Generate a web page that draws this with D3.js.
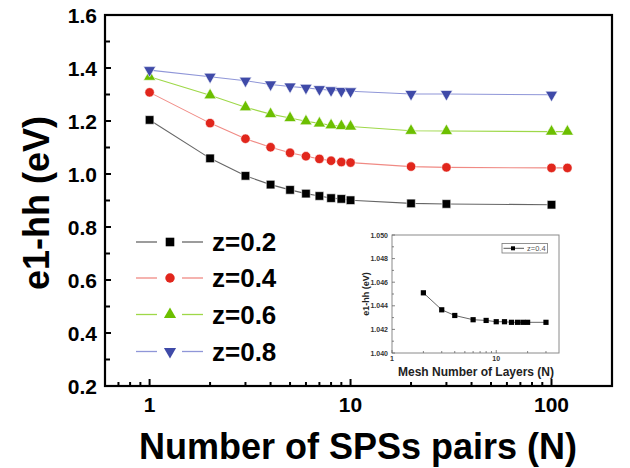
<!DOCTYPE html>
<html>
<head>
<meta charset="utf-8">
<script src="https://cdn.jsdelivr.net/npm/d3@7.9.0/dist/d3.min.js"></script>
<style>
  body { margin: 0; background: #fff; }
  svg { display: block; font-family: "Liberation Sans", Arial, sans-serif; }
</style>
</head>
<body>
<svg id="chart" width="630" height="468"></svg>
<script>
// Main chart data: number of SPS pairs vs e1-hh energy
const pairs = [1, 2, 3, 4, 5, 6, 7, 8, 9, 10, 20, 30, 100];
const z02 = [1.204, 1.059, 0.993, 0.960, 0.940, 0.926, 0.917, 0.909, 0.906, 0.901, 0.889, 0.887, 0.884];
const z04 = [1.308, 1.192, 1.133, 1.101, 1.080, 1.067, 1.057, 1.050, 1.045, 1.043, 1.028, 1.025, 1.023, 1.023];
const z06 = [1.367, 1.297, 1.252, 1.226, 1.211, 1.199, 1.191, 1.184, 1.181, 1.179, 1.163, 1.162, 1.160, 1.160];
const z08 = [1.392, 1.367, 1.352, 1.338, 1.330, 1.325, 1.320, 1.316, 1.313, 1.312, 1.302, 1.302, 1.299];
const extraPair = 120; // z=0.4 and z=0.6 have one more point
const yTicks = [0.2, 0.4, 0.6, 0.8, 1.0, 1.2, 1.4, 1.6];
const xTicks = [1, 10, 100];

// Inset data: mesh layers vs e1-hh for z=0.4
const layers = [2, 3, 4, 6, 8, 10, 12, 14, 16, 18, 20, 30];
const meshE = [1.04510, 1.04366, 1.04318, 1.04282, 1.04276, 1.04265, 1.04265, 1.04260, 1.04260, 1.04260, 1.04260, 1.04260];
const insetYTicks = [1.040, 1.042, 1.044, 1.046, 1.048, 1.050];

const series = [
  { label: "z=0.2", y: z02, color: "#000000", line: "#666666", shape: d3.symbolSquare, size: 74, rot: 0 },
  { label: "z=0.4", y: z04, color: "#e1261c", line: "#f08a84", shape: d3.symbolCircle, size: 70, rot: 0 },
  { label: "z=0.6", y: z06, color: "#6cbf00", line: "#9ed848", shape: d3.symbolTriangle, size: 64, rot: 0 },
  { label: "z=0.8", y: z08, color: "#3f4aa8", line: "#8f96d8", shape: d3.symbolTriangle, size: 64, rot: 180 }
];

const svg = d3.select("#chart");

const x = d3.scaleLog().domain([0.6, 200]).range([105, 612]);
const y = d3.scaleLinear().domain([0.2, 1.6]).range([386, 15]);

// frame
svg.append("rect")
  .attr("x", 105).attr("y", 15)
  .attr("width", 612 - 105).attr("height", 386 - 15)
  .attr("fill", "none").attr("stroke", "#000").attr("stroke-width", 2.2);

// y ticks (inward), every 0.1, labels every 0.2
const yMinor = d3.range(0.3, 1.6, 0.2);
svg.selectAll(".ymin").data(yMinor).join("line")
  .attr("x1", 105).attr("x2", 110)
  .attr("y1", d => y(d)).attr("y2", d => y(d))
  .attr("stroke", "#000").attr("stroke-width", 2);
svg.selectAll(".ymaj").data(yTicks).join("line")
  .attr("x1", 105).attr("x2", 111)
  .attr("y1", d => y(d)).attr("y2", d => y(d))
  .attr("stroke", "#000").attr("stroke-width", 2);
svg.selectAll(".ylab").data(yTicks).join("text")
  .attr("x", 97).attr("y", d => y(d) + 7.5)
  .attr("text-anchor", "end")
  .attr("font-size", 21).attr("font-weight", "bold")
  .text(d => d.toFixed(1));

// x ticks (log, inward)
const xMinor = [0.7, 0.8, 0.9, 2, 3, 4, 5, 6, 7, 8, 9, 20, 30, 40, 50, 60, 70, 80, 90];
svg.selectAll(".xmin").data(xMinor).join("line")
  .attr("x1", d => x(d)).attr("x2", d => x(d))
  .attr("y1", 386).attr("y2", 382)
  .attr("stroke", "#000").attr("stroke-width", 2);
svg.selectAll(".xmaj").data(xTicks).join("line")
  .attr("x1", d => x(d)).attr("x2", d => x(d))
  .attr("y1", 386).attr("y2", 379)
  .attr("stroke", "#000").attr("stroke-width", 2);
svg.selectAll(".xlab").data(xTicks).join("text")
  .attr("x", d => x(d)).attr("y", 412)
  .attr("text-anchor", "middle")
  .attr("font-size", 21).attr("font-weight", "bold")
  .text(d => d);

// axis titles
svg.append("text")
  .attr("transform", "translate(49,203) rotate(-90)")
  .attr("text-anchor", "middle")
  .attr("font-size", 36).attr("font-weight", "bold")
  .text("e1-hh (eV)");
svg.append("text")
  .attr("x", 358).attr("y", 459)
  .attr("text-anchor", "middle")
  .attr("font-size", 36).attr("font-weight", "bold")
  .text("Number of SPSs pairs (N)");

// series
const line = d3.line().x(d => x(d[0])).y(d => y(d[1]));
series.forEach(s => {
  const xs = pairs.concat(s.y.length > pairs.length ? [extraPair] : []);
  const pts = s.y.map((v, i) => [xs[i], v]);
  svg.append("path").datum(pts)
    .attr("d", line)
    .attr("fill", "none").attr("stroke", s.line).attr("stroke-width", 1.1);
  svg.selectAll(null).data(pts).join("path")
    .attr("d", d3.symbol(s.shape, s.size))
    .attr("transform", d => `translate(${x(d[0])},${y(d[1])}) rotate(${s.rot})`)
    .attr("fill", s.color).attr("stroke", "#fff").attr("stroke-width", 0.6);
});

// main legend
const legendY = [242, 278, 314.5, 351.5];
series.forEach((s, i) => {
  const g = svg.append("g").attr("transform", `translate(0,${legendY[i]})`);
  g.append("line").attr("x1", 136).attr("x2", 157).attr("y1", 0).attr("y2", 0)
    .attr("stroke", s.line).attr("stroke-width", 1.3);
  g.append("line").attr("x1", 182).attr("x2", 203).attr("y1", 0).attr("y2", 0)
    .attr("stroke", s.line).attr("stroke-width", 1.3);
  g.append("path")
    .attr("d", d3.symbol(s.shape, s.size))
    .attr("transform", `translate(170,0) rotate(${s.rot})`)
    .attr("fill", s.color);
  g.append("text").attr("x", 212).attr("y", 9)
    .attr("font-size", 26).attr("font-weight", "bold")
    .text(s.label);
});

// inset
const ix = d3.scaleLog().domain([1, 40]).range([392, 559]);
const iy = d3.scaleLinear().domain([1.040, 1.050]).range([353, 235]);
const inset = svg.append("g");
inset.append("rect")
  .attr("x", 392).attr("y", 235).attr("width", 559 - 392).attr("height", 353 - 235)
  .attr("fill", "#fff").attr("stroke", "#8a8a8a").attr("stroke-width", 1);

const iyMinor = [1.041, 1.043, 1.045, 1.047, 1.049];
inset.selectAll(".iymin").data(iyMinor).join("line")
  .attr("x1", 392).attr("x2", 394).attr("y1", d => iy(d)).attr("y2", d => iy(d))
  .attr("stroke", "#666").attr("stroke-width", 0.8);
inset.selectAll(".iymaj").data(insetYTicks).join("line")
  .attr("x1", 392).attr("x2", 395).attr("y1", d => iy(d)).attr("y2", d => iy(d))
  .attr("stroke", "#666").attr("stroke-width", 0.8);
inset.selectAll(".iylab").data(insetYTicks).join("text")
  .attr("x", 388).attr("y", d => iy(d) + 2.5)
  .attr("text-anchor", "end")
  .attr("font-size", 7).attr("font-weight", "bold").attr("fill", "#333")
  .text(d => d.toFixed(3));

const ixMinor = [2, 3, 4, 5, 6, 7, 8, 9, 20, 30];
inset.selectAll(".ixmin").data(ixMinor).join("line")
  .attr("x1", d => ix(d)).attr("x2", d => ix(d)).attr("y1", 353).attr("y2", 351)
  .attr("stroke", "#666").attr("stroke-width", 0.8);
inset.selectAll(".ixmaj").data([1, 10]).join("line")
  .attr("x1", d => ix(d)).attr("x2", d => ix(d)).attr("y1", 353).attr("y2", 350)
  .attr("stroke", "#666").attr("stroke-width", 0.8);
inset.selectAll(".ixlab").data([1, 10]).join("text")
  .attr("x", d => ix(d)).attr("y", 361)
  .attr("text-anchor", "middle")
  .attr("font-size", 7).attr("font-weight", "bold").attr("fill", "#333")
  .text(d => d);

inset.append("text")
  .attr("x", 476).attr("y", 376)
  .attr("text-anchor", "middle")
  .attr("font-size", 12).attr("font-weight", "bold").attr("fill", "#222")
  .text("Mesh Number of Layers (N)");
inset.append("text")
  .attr("transform", "translate(369,294) rotate(-90)")
  .attr("text-anchor", "middle")
  .attr("font-size", 9).attr("font-weight", "bold").attr("fill", "#222")
  .text("e1-hh (eV)");

const ipts = layers.map((n, i) => [n, meshE[i]]);
inset.append("path").datum(ipts)
  .attr("d", d3.line().x(d => ix(d[0])).y(d => iy(d[1])))
  .attr("fill", "none").attr("stroke", "#555").attr("stroke-width", 0.9);
inset.selectAll(".ipt").data(ipts).join("rect")
  .attr("x", d => ix(d[0]) - 2.6).attr("y", d => iy(d[1]) - 2.6)
  .attr("width", 5.2).attr("height", 5.2)
  .attr("fill", "#000");

// inset legend
const il = inset.append("g");
il.append("rect").attr("x", 502).attr("y", 243.5).attr("width", 45.5).attr("height", 9.5)
  .attr("fill", "#fff").attr("stroke", "#777").attr("stroke-width", 0.8);
il.append("line").attr("x1", 503.5).attr("x2", 524).attr("y1", 248.3).attr("y2", 248.3)
  .attr("stroke", "#444").attr("stroke-width", 0.9);
il.append("rect").attr("x", 511).attr("y", 246.3).attr("width", 4).attr("height", 4).attr("fill", "#000");
il.append("text").attr("x", 527).attr("y", 251.3)
  .attr("font-size", 7.5).attr("fill", "#555").text("z=0.4");
</script>
</body>
</html>
